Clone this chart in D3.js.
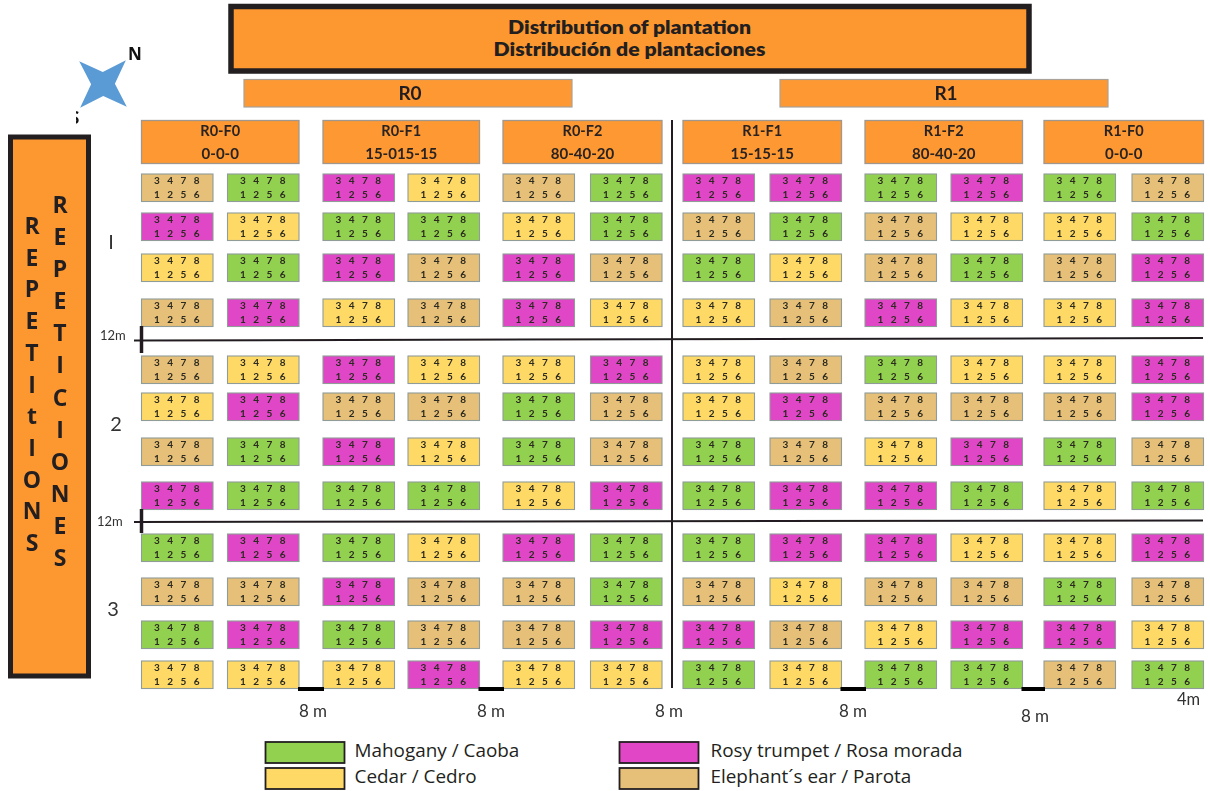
<!DOCTYPE html>
<html><head><meta charset="utf-8">
<script src="https://cdn.jsdelivr.net/npm/d3@7/dist/d3.min.js"></script>
<style>html,body{margin:0;padding:0;background:#fff}svg{display:block}text{font-family:"Open Sans",sans-serif}.cal text,text.cal{font-family:Lato,sans-serif}</style>
</head><body><svg id="c" width="1210" height="791"></svg>
<script>
// ---------- data ----------
const titleLines = ["Distribution of plantation", "Distribución de plantaciones"];
const rootGroups = ["R0", "R1"];
const plotNames = ["R0-F0","R0-F1","R0-F2","R1-F1","R1-F2","R1-F0"];
const plotDoses = ["0-0-0","15-015-15","80-40-20","15-15-15","80-40-20","0-0-0"];
const repLabels = ["I","2","3"];
const repEn = ["R","E","P","E","T","I","t","I","O","N","S"];
const repEs = ["R","E","P","E","T","I","C","I","O","N","E","S"];
const upperTrees = [3,4,7,8];
const lowerTrees = [1,2,5,6];
const speciesCodes = ["M","C","R","E"];
const speciesNames = ["Mahogany / Caoba","Cedar / Cedro","Rosy trumpet / Rosa morada","Elephant´s ear / Parota"];
const row01 = ["E","M","R","C","E","M","R","R","M","R","M","E"];
const row02 = ["R","C","M","M","C","M","E","M","E","C","C","M"];
const row03 = ["C","M","R","E","R","E","M","C","E","M","E","R"];
const row04 = ["E","R","C","E","R","C","C","E","R","C","C","R"];
const row05 = ["E","C","R","C","C","R","C","E","M","C","C","R"];
const row06 = ["C","R","E","E","M","E","C","R","E","E","E","R"];
const row07 = ["E","M","R","C","M","E","M","E","C","R","M","E"];
const row08 = ["R","M","M","M","C","R","M","R","R","M","C","M"];
const row09 = ["M","R","M","C","R","M","M","R","R","C","C","R"];
const row10 = ["E","E","R","E","E","M","E","C","E","E","M","E"];
const row11 = ["M","R","M","E","E","R","R","E","C","R","R","C"];
const row12 = ["C","C","C","R","C","C","M","C","M","M","E","M"];
const rows = [row01,row02,row03,row04,row05,row06,row07,row08,row09,row10,row11,row12];
const gapLabels = ["8 m","8 m","8 m","8 m","8 m"];

// ---------- scales ----------
const ink = "#231f20", orange = "#fd9831";
const x = d3.scaleOrdinal(d3.range(12), [141.5,227.5,323,408,503,590.5,683,770,865,951,1044,1132]);
const y = d3.scaleOrdinal(d3.range(12), [174,213,254,299,356,393,438,482,534,578,621,661]);
const fill = d3.scaleOrdinal(speciesCodes, ["#92d14f","#ffd966","#e046c6","#e6bf78"]);
const cellW = 71.5, cellH = 27.5;

const svg = d3.select("#c");
const defs = svg.append("defs");
defs.append("filter").attr("id","soft").append("feGaussianBlur").attr("stdDeviation",0.4);
defs.append("clipPath").attr("id","sclip").append("rect").attr("x",76).attr("y",105).attr("width",3).attr("height",25);

// ---------- title ----------
const title = svg.append("g").attr("class","cal");
title.append("rect").attr("x",231).attr("y",6.5).attr("width",798).attr("height",64.5)
  .attr("fill",orange).attr("stroke",ink).attr("stroke-width",5.5);
title.selectAll("text").data(titleLines).join("text")
  .attr("x",629.5).attr("y",(d,i)=>33.8+i*22.2).attr("text-anchor","middle")
  .attr("font-size",18).attr("font-weight",800).attr("fill",ink).attr("textLength",(d,i)=>i?272:243)
  .attr("lengthAdjust","spacingAndGlyphs").text(d=>d);

// ---------- R0 / R1 ----------
const rootX = d3.scaleOrdinal(rootGroups,[244,780]);
const rootG = svg.append("g").attr("class","cal").attr("filter","url(#soft)").selectAll("g").data(rootGroups).join("g");
rootG.append("rect").attr("x",d=>rootX(d)).attr("y",79.5).attr("width",328).attr("height",27.5)
  .attr("fill",orange).attr("stroke","#a8a29a").attr("stroke-width",1.2);
rootG.append("text").attr("x",d=>rootX(d)+166).attr("y",99.5).attr("text-anchor","middle")
  .attr("font-size",19).attr("font-weight",700).attr("fill",ink).text(d=>d);

// ---------- plot headers ----------
const headG = svg.append("g").attr("class","cal").attr("filter","url(#soft)").selectAll("g").data(plotNames).join("g");
headG.append("rect").attr("x",(d,i)=>x(i*2)).attr("y",120.5)
  .attr("width",(d,i)=>x(i*2+1)+cellW-x(i*2)).attr("height",43)
  .attr("fill",orange).attr("stroke","#a0988e").attr("stroke-width",1.3);
headG.append("text").attr("x",(d,i)=>(x(i*2)+x(i*2+1)+cellW)/2).attr("y",136).attr("text-anchor","middle")
  .attr("font-size",14.5).attr("font-weight",700).attr("fill","#2b2420").text(d=>d);
headG.append("text").attr("x",(d,i)=>(x(i*2)+x(i*2+1)+cellW)/2).attr("y",159).attr("text-anchor","middle")
  .attr("font-size",15).attr("font-weight",700).attr("fill","#2b2420").text((d,i)=>plotDoses[i]);

// ---------- cells ----------
const cells = rows.flatMap((r,ri)=>r.map((s,ci)=>({s,ri,ci})));
const cellG = svg.append("g").attr("class","cal").attr("filter","url(#soft)").selectAll("g").data(cells).join("g")
  .attr("transform",d=>`translate(${x(d.ci)},${y(d.ri)})`);
cellG.append("rect").attr("width",cellW).attr("height",cellH)
  .attr("fill",d=>fill(d.s)).attr("stroke","#8f9c98").attr("stroke-width",1.1);
[[upperTrees,10],[lowerTrees,24]].forEach(([arr,yy])=>{
  arr.forEach((n,k)=>{
    cellG.append("text").attr("x",15.5+k*13.2).attr("y",yy).attr("text-anchor","middle")
      .attr("font-size",10).attr("font-weight",700).attr("fill","#2b2a20").text(n);
  });
});

// ---------- field lines ----------
const lines = svg.append("g").attr("stroke",ink).attr("fill","none").attr("filter","url(#soft)");
lines.append("line").attr("x1",672).attr("x2",672).attr("y1",120).attr("y2",688).attr("stroke-width",2);
lines.append("line").attr("x1",134).attr("x2",1203).attr("y1",340.5).attr("y2",338).attr("stroke-width",2);
lines.append("line").attr("x1",134).attr("x2",1203).attr("y1",522).attr("y2",520.5).attr("stroke-width",2);
lines.append("line").attr("x1",141.5).attr("x2",141.5).attr("y1",326).attr("y2",353).attr("stroke-width",3.5);
lines.append("line").attr("x1",141.5).attr("x2",141.5).attr("y1",509).attr("y2",533).attr("stroke-width",3.5);

// ---------- distance marks ----------
const barCols = [1,3,7,9];
svg.append("g").selectAll("rect").data(barCols).join("rect")
  .attr("x",d=>x(d)+cellW-1).attr("y",687).attr("height",4)
  .attr("width",d=>x(d+1)-x(d)-cellW+2).attr("fill","#000");
const labelXs = d3.scaleOrdinal(d3.range(5),[313,491,669,853,1035]);
const labelYs = d3.scaleOrdinal(d3.range(5),[717,717,717,717,722]);
svg.append("g").attr("class","cal").selectAll("text").data(gapLabels).join("text")
  .attr("x",(d,i)=>labelXs(i)).attr("y",(d,i)=>labelYs(i)).attr("text-anchor","middle")
  .attr("font-size",17).attr("fill","#333").text(d=>d);
const lab = svg.append("g").attr("class","cal");
lab.append("text").attr("x",1177).attr("y",705).attr("font-size",16.5).attr("fill","#333").text("4m");
lab.append("text").attr("x",100).attr("y",340).attr("font-size",13).attr("fill","#333").text("12m");
lab.append("text").attr("x",97).attr("y",526).attr("font-size",13).attr("fill","#333").text("12m");
const repY = d3.scaleOrdinal(d3.range(3),[249,431,616]);
const repX = d3.scaleOrdinal(d3.range(3),[111,116,113]);
lab.selectAll("text.rep").data(repLabels).join("text").attr("class","rep")
  .attr("x",(d,i)=>repX(i)).attr("y",(d,i)=>repY(i)).attr("text-anchor","middle")
  .attr("font-size",20).attr("fill","#333").text(d=>d);

// ---------- repetitions box ----------
svg.append("rect").attr("x",10.5).attr("y",137).attr("width",78).attr("height",539)
  .attr("fill",orange).attr("stroke",ink).attr("stroke-width",5);
const colEn = d3.scalePoint(d3.range(repEn.length),[234,551]);
const colEs = d3.scalePoint(d3.range(repEs.length),[213,566]);
svg.append("g").selectAll("text").data(repEn).join("text")
  .attr("x",32).attr("y",(d,i)=>colEn(i)).attr("text-anchor","middle")
  .attr("font-size",23).attr("font-weight",700).attr("fill",ink).text(d=>d);
svg.append("g").selectAll("text").data(repEs).join("text")
  .attr("x",60).attr("y",(d,i)=>colEs(i)).attr("text-anchor","middle")
  .attr("font-size",23).attr("font-weight",700).attr("fill",ink).text(d=>d);

// ---------- compass ----------
const star = d3.lineRadial().curve(d3.curveLinearClosed)
  .angle((d,i)=>d3.scaleLinear().domain([0,8]).range([0,2*Math.PI])(i)+Math.PI/4-0.02)
  .radius((d,i)=>i%2?d*0.36:d);
svg.append("path").attr("transform","translate(103,84)")
  .attr("d",star(new Array(8).fill(33))).attr("fill","#5b9bd5");
svg.append("text").attr("x",128).attr("y",60).attr("font-size",17).attr("font-weight",700).attr("fill","#111").text("N");
svg.append("text").attr("x",70).attr("y",124).attr("font-size",17).attr("font-weight",700).attr("fill","#111")
  .attr("clip-path","url(#sclip)").text("S");

// ---------- legend ----------
const legX = d3.scaleOrdinal(d3.range(4),[265.5,265.5,619.5,619.5]);
const legY = d3.scaleOrdinal(d3.range(4),[742,768,742,768]);
const leg = svg.append("g").selectAll("g").data(speciesCodes).join("g")
  .attr("transform",(d,i)=>`translate(${legX(i)},${legY(i)})`);
leg.append("rect").attr("width",79).attr("height",21).attr("fill",d=>fill(d)).attr("stroke",ink).attr("stroke-width",1.8);
leg.append("text").attr("x",(d,i)=>i<2?89:91).attr("y",15).attr("font-size",18.9).attr("fill",ink)
  .text((d,i)=>speciesNames[i]);
</script></body></html>
